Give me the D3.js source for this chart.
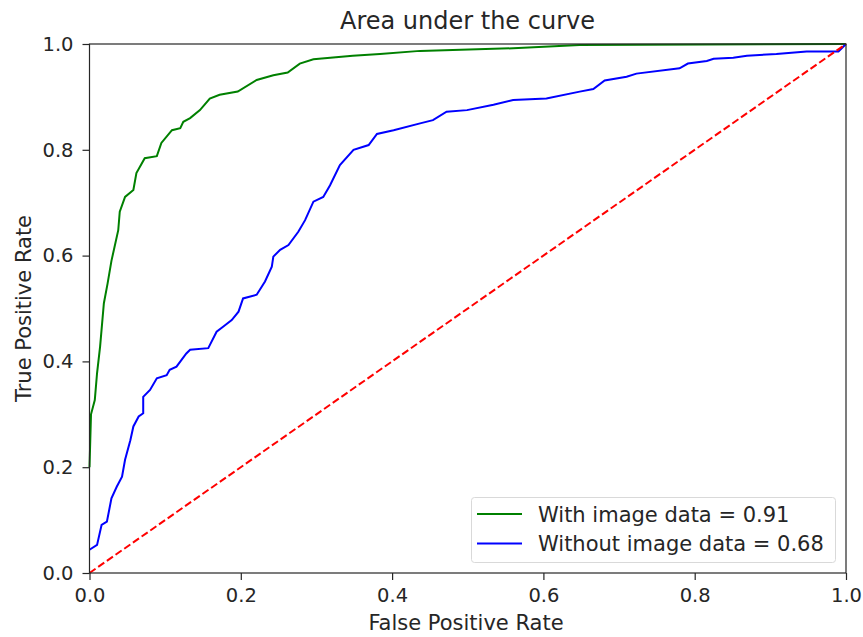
<!DOCTYPE html>
<html>
<head>
<meta charset="utf-8">
<script src="https://cdn.jsdelivr.net/npm/d3@7"></script>
<style>
  body { margin: 0; background: #fff; }
  svg text { font-family: "DejaVu Sans", sans-serif; fill: #262626; }
</style>
</head>
<body>
<svg id="chart" width="863" height="637"></svg>
<script>
// ROC points: [fpr, tpr]
const withImage = [
  [0.000, 0.200], [0.002, 0.300], [0.007, 0.327], [0.010, 0.378], [0.014, 0.428],
  [0.019, 0.510], [0.024, 0.548], [0.029, 0.590], [0.038, 0.648], [0.040, 0.683],
  [0.047, 0.711], [0.058, 0.724], [0.062, 0.756], [0.073, 0.784], [0.089, 0.788],
  [0.095, 0.813], [0.109, 0.837], [0.120, 0.841], [0.124, 0.853], [0.133, 0.860],
  [0.146, 0.875], [0.159, 0.897], [0.172, 0.904], [0.196, 0.910], [0.221, 0.932],
  [0.243, 0.941], [0.262, 0.946], [0.278, 0.963], [0.296, 0.971], [0.348, 0.978],
  [0.384, 0.981], [0.437, 0.987], [0.560, 0.992], [0.648, 0.998], [1.000, 1.000]
];
const withoutImage = [
  [0.000, 0.044], [0.010, 0.053], [0.016, 0.091], [0.023, 0.097], [0.029, 0.141],
  [0.036, 0.163], [0.043, 0.182], [0.047, 0.214], [0.054, 0.251], [0.058, 0.277],
  [0.065, 0.296], [0.071, 0.302], [0.071, 0.333], [0.080, 0.346], [0.089, 0.368],
  [0.102, 0.374], [0.106, 0.384], [0.115, 0.390], [0.128, 0.415], [0.133, 0.422],
  [0.157, 0.425], [0.168, 0.456], [0.177, 0.466], [0.188, 0.478], [0.197, 0.494],
  [0.203, 0.519], [0.221, 0.526], [0.232, 0.551], [0.241, 0.579], [0.243, 0.598],
  [0.252, 0.611], [0.263, 0.620], [0.276, 0.645], [0.285, 0.667], [0.296, 0.702],
  [0.309, 0.711], [0.318, 0.733], [0.331, 0.771], [0.349, 0.800], [0.369, 0.809],
  [0.380, 0.830], [0.402, 0.837], [0.437, 0.850], [0.454, 0.856], [0.472, 0.872],
  [0.499, 0.875], [0.534, 0.885], [0.560, 0.894], [0.604, 0.897], [0.648, 0.910],
  [0.666, 0.915], [0.681, 0.931], [0.710, 0.938], [0.723, 0.944], [0.780, 0.954],
  [0.791, 0.963], [0.816, 0.968], [0.825, 0.972], [0.851, 0.974], [0.869, 0.978],
  [0.908, 0.981], [0.948, 0.986], [0.990, 0.986], [1.000, 1.000]
];
const chance = [[0, 0], [1, 1]];
const ticks = [0, 0.2, 0.4, 0.6, 0.8, 1.0];
const legendItems = [
  { label: "With image data = 0.91", color: "green" },
  { label: "Without image data = 0.68", color: "blue" }
];

const svg = d3.select("#chart");
const m = { left: 89.5, right: 846, top: 44, bottom: 573 };

const x = d3.scaleLinear().domain([0, 1]).range([m.left, m.right]);
const y = d3.scaleLinear().domain([0, 1]).range([m.bottom, m.top]);

const line = d3.line().x(d => x(d[0])).y(d => y(d[1]));

const plot = svg.append("g");
plot.append("path").datum(withImage)
  .attr("d", line).attr("fill", "none").attr("stroke", "green").attr("stroke-width", 2);
plot.append("path").datum(withoutImage)
  .attr("d", line).attr("fill", "none").attr("stroke", "blue").attr("stroke-width", 2);
plot.append("path").datum(chance)
  .attr("d", line).attr("fill", "none").attr("stroke", "red").attr("stroke-width", 2)
  .attr("stroke-dasharray", "7.4,3.2");

// axes
const xAxis = svg.append("g").attr("transform", `translate(0,${m.bottom})`)
  .call(d3.axisBottom(x).tickValues(ticks).tickFormat(d3.format(".1f")).tickSize(7).tickPadding(8));
const yAxis = svg.append("g").attr("transform", `translate(${m.left},0)`)
  .call(d3.axisLeft(y).tickValues(ticks).tickFormat(d3.format(".1f")).tickSize(7).tickPadding(9));
[xAxis, yAxis].forEach(a => {
  a.select(".domain").remove();
  a.selectAll("line").attr("stroke", "#262626").attr("stroke-width", 1.2);
  a.selectAll("text").attr("font-size", 19.5).attr("fill", "#262626");
});

// frame
svg.append("rect")
  .attr("x", m.left).attr("y", m.top)
  .attr("width", m.right - m.left).attr("height", m.bottom - m.top)
  .attr("fill", "none").attr("stroke", "#262626").attr("stroke-width", 1.2);

// labels
svg.append("text").attr("x", 467.5).attr("y", 29)
  .attr("text-anchor", "middle").attr("font-size", 24).text("Area under the curve");
svg.append("text").attr("x", 466).attr("y", 630)
  .attr("text-anchor", "middle").attr("font-size", 21).text("False Positive Rate");
svg.append("text").attr("transform", `translate(31,${(m.top + m.bottom) / 2}) rotate(-90)`)
  .attr("text-anchor", "middle").attr("font-size", 21).text("True Positive Rate");

// legend
const lg = svg.append("g");
lg.append("rect").attr("x", 471.5).attr("y", 497.5).attr("width", 364).attr("height", 65)
  .attr("rx", 3).attr("fill", "rgba(255,255,255,0.8)").attr("stroke", "#d9d9d9");
legendItems.forEach((d, i) => {
  const yy = 514 + i * 29.5;
  lg.append("line").attr("x1", 477).attr("x2", 522).attr("y1", yy).attr("y2", yy)
    .attr("stroke", d.color).attr("stroke-width", 2);
  lg.append("text").attr("x", 538).attr("y", yy + 7.5).attr("font-size", 21).text(d.label);
});
</script>
</body>
</html>
